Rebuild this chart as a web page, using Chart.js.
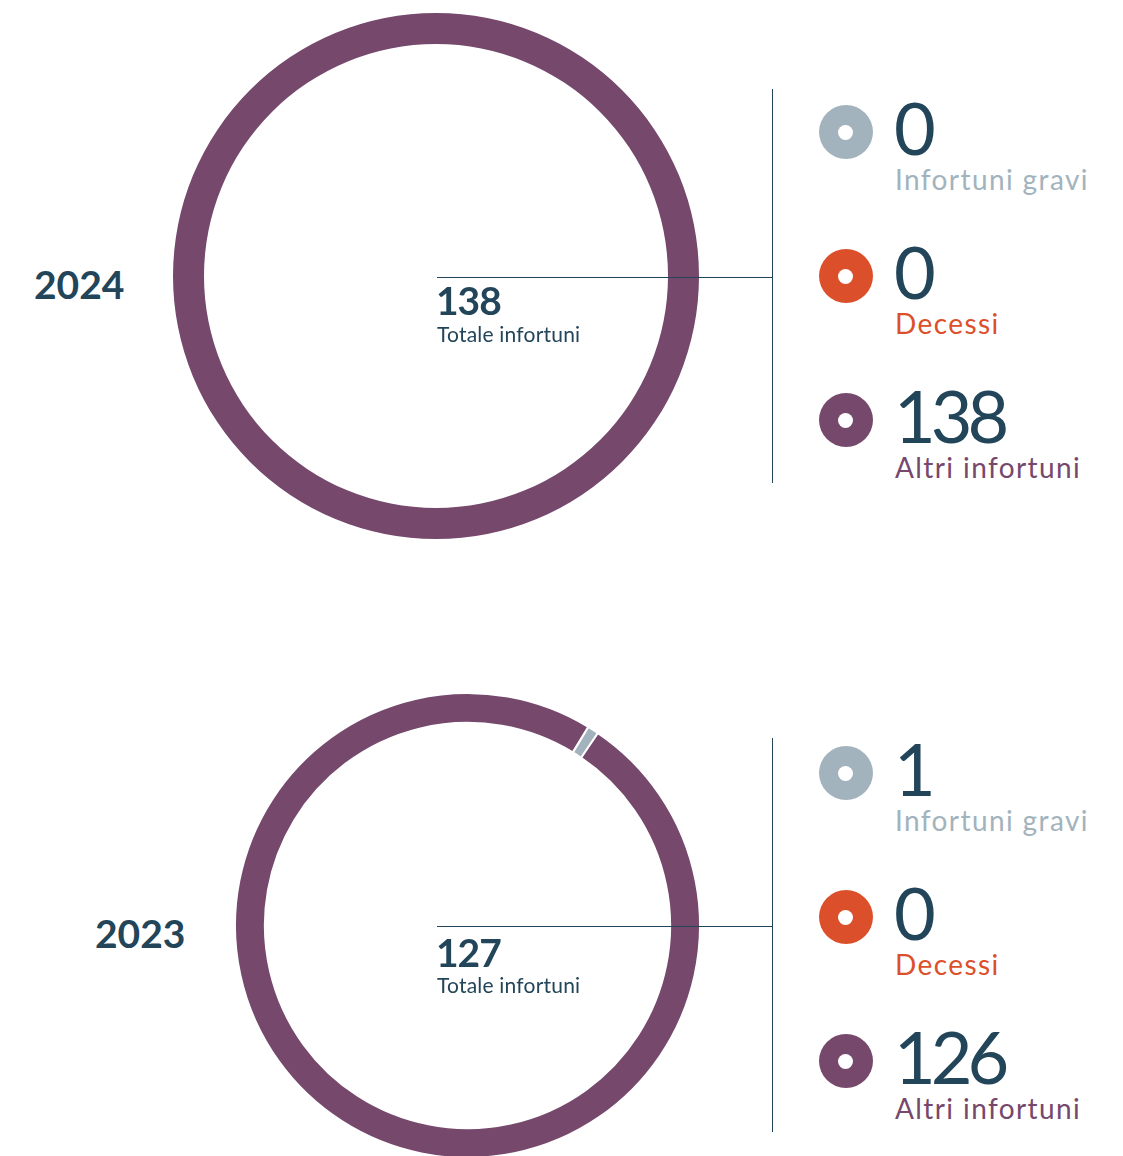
<!DOCTYPE html>
<html lang="it">
<head>
<meta charset="utf-8">
<script src="https://cdn.jsdelivr.net/npm/chart.js@4.4.1/dist/chart.umd.min.js"></script>
<style>
  html,body{margin:0;padding:0;background:#fff;overflow:hidden}
  body{width:1123px;height:1156px;position:relative;font-family:Lato,"Open Sans",sans-serif;color:#224559}
  .abs{position:absolute;line-height:1;white-space:nowrap}
  canvas{position:absolute}
  .line{position:absolute;background:#224559;z-index:2}
  .dot{position:absolute;border-radius:50%}
  .dot i{position:absolute;left:50%;top:50%;width:15px;height:15px;margin:-7.5px 0 0 -7.5px;border-radius:50%;background:#fff}
</style>
</head>
<body>
<script>
// dati
const years = ['2024', '2023'];
const categories = ['Infortuni gravi', 'Decessi', 'Altri infortuni'];
const values2024 = [0, 0, 138];
const values2023 = [1, 0, 126];
const totals = [138, 127];
const totalLabel = 'Totale infortuni';

const catColors = ['#a2b3bd', '#dc4f2b', '#75486c'];
const ink = '#224559';

// layout per anno: centro, raggio, spessore, rotazione
const blocks = [
  { values: values2024, cx: 436, cy: 276, R: 263, r: 232, border: 0, rot: 0, yearX: 34 },
  { values: values2023, cx: 467, cy: 925, R: 233.5, r: 203.5, border: 2, rot: 31.3, yearX: 95 }
];

const body = document.body;
function el(tag, cls, css, text){
  const e = document.createElement(tag);
  if(cls) e.className = cls;
  Object.assign(e.style, css);
  if(text !== undefined) e.textContent = text;
  body.appendChild(e);
  return e;
}
// top di un testo Lato (line-height 1) dato il baseline
const topFor = (base, fs) => (base - 0.887*fs) + 'px';

blocks.forEach((b, k) => {
  const size = Math.round(b.R*2);
  const cv = el('canvas', '', { left: (b.cx - size/2) + 'px', top: (b.cy - size/2) + 'px' });
  cv.width = size; cv.height = size;
  new Chart(cv, {
    type: 'doughnut',
    data: { labels: categories, datasets: [{
      data: b.values,
      backgroundColor: catColors,
      borderColor: '#fff',
      borderWidth: b.border
    }]},
    options: {
      responsive: false, animation: false, events: [],
      cutout: (b.r / b.R * 100) + '%',
      rotation: b.rot,
      layout: { padding: 0 },
      plugins: { legend: { display: false }, tooltip: { enabled: false } }
    }
  });

  // anno
  el('div', 'abs', { left: b.yearX + 'px', top: topFor(b.cy + 24, 39), fontSize: '39px', fontWeight: 700, color: ink }, years[k]);
  // linea orizzontale + verticale
  el('div', 'line', { left: '437px', top: (b.cy + 1) + 'px', width: '335px', height: '1px' });
  el('div', 'line', { left: '772px', top: (b.cy - 187) + 'px', width: '1px', height: '394px' });
  // totale
  el('div', 'abs', { left: '436px', top: topFor(b.cy + 40 + (k ? 3 : 0), 39), fontSize: '39px', fontWeight: 700, color: ink, letterSpacing: '-1px' }, totals[k]);
  el('div', 'abs', { left: '437px', top: topFor(b.cy + 66 + (k ? 2 : 0), 21), fontSize: '21px', color: ink, letterSpacing: '0.2px' }, totalLabel);

  // legenda
  const rows = [132, 276, 420].map(y => y + k*641);
  categories.forEach((c, i) => {
    const y = rows[i];
    const d = el('div', 'dot', { left: (845.5 - 27) + 'px', top: (y - 27) + 'px', width: '54px', height: '54px', background: catColors[i] });
    d.appendChild(document.createElement('i'));
    el('div', 'abs', { left: '894px', top: topFor(y + 23, 72), fontSize: '72px', color: ink, letterSpacing: '-5px' }, b.values[i]);
    el('div', 'abs', { left: '895px', top: topFor(y + 58, 28), fontSize: '28px', color: catColors[i], letterSpacing: '1.4px' }, c);
  });
});
</script>
</body>
</html>
